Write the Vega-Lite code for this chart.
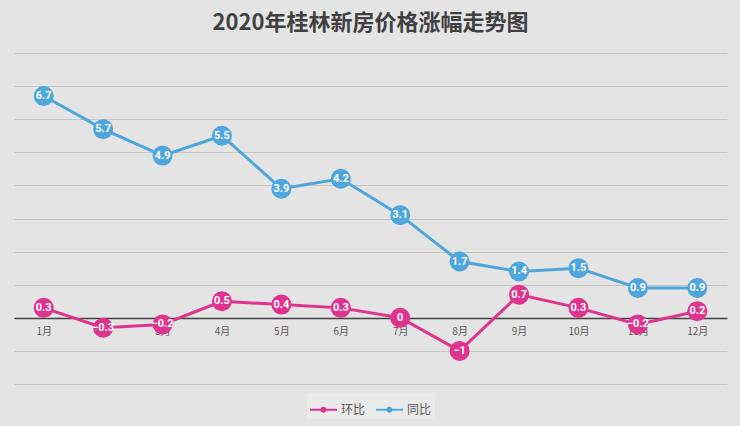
{
  "$schema": "https://vega.github.io/schema/vega-lite/v6.json",
  "width": 713,
  "height": 331,
  "autosize": {"type": "none"},
  "padding": {"left": 14, "top": 53, "right": 13, "bottom": 42},
  "background": "#e4e4e4",
  "title": {
    "text": "2020年桂林新房价格涨幅走势图",
    "font": "Noto Sans CJK SC",
    "fontSize": 22,
    "fontWeight": "bold",
    "color": "#404040",
    "anchor": "middle",
    "offset": 18
  },
  "config": {
    "view": {"stroke": null},
    "axis": {"labelFont": "Noto Sans CJK SC"},
    "legend": {"layout": {"bottom": {"anchor": "middle"}}}
  },
  "data": {
    "values": [
      {"month": "1月", "series": "环比", "value": 0.3},
      {"month": "2月", "series": "环比", "value": -0.3},
      {"month": "3月", "series": "环比", "value": -0.2},
      {"month": "4月", "series": "环比", "value": 0.5},
      {"month": "5月", "series": "环比", "value": 0.4},
      {"month": "6月", "series": "环比", "value": 0.3},
      {"month": "7月", "series": "环比", "value": 0},
      {"month": "8月", "series": "环比", "value": -1},
      {"month": "9月", "series": "环比", "value": 0.7},
      {"month": "10月", "series": "环比", "value": 0.3},
      {"month": "11月", "series": "环比", "value": -0.2},
      {"month": "12月", "series": "环比", "value": 0.2},
      {"month": "1月", "series": "同比", "value": 6.7},
      {"month": "2月", "series": "同比", "value": 5.7},
      {"month": "3月", "series": "同比", "value": 4.9},
      {"month": "4月", "series": "同比", "value": 5.5},
      {"month": "5月", "series": "同比", "value": 3.9},
      {"month": "6月", "series": "同比", "value": 4.2},
      {"month": "7月", "series": "同比", "value": 3.1},
      {"month": "8月", "series": "同比", "value": 1.7},
      {"month": "9月", "series": "同比", "value": 1.4},
      {"month": "10月", "series": "同比", "value": 1.5},
      {"month": "11月", "series": "同比", "value": 0.9},
      {"month": "12月", "series": "同比", "value": 0.9}
    ]
  },
  "encoding": {
    "x": {
      "field": "month",
      "type": "ordinal",
      "sort": ["1月","2月","3月","4月","5月","6月","7月","8月","9月","10月","11月","12月"],
      "scale": {"type": "point", "padding": 0.5},
      "axis": {
        "title": null,
        "offset": -66,
        "domainColor": "#404040",
        "domainWidth": 1.5,
        "ticks": false,
        "labelAngle": 0,
        "labelPadding": 8,
        "labelFontSize": 10,
        "labelColor": "#595959"
      }
    },
    "y": {
      "field": "value",
      "type": "quantitative",
      "scale": {"domain": [-2, 8], "nice": false, "zero": false},
      "axis": {
        "title": null,
        "values": [-2, -1, 0, 1, 2, 3, 4, 5, 6, 7, 8],
        "labels": false,
        "ticks": false,
        "domain": false,
        "gridColor": "#c4c4c4",
        "gridWidth": 1
      }
    },
    "color": {
      "field": "series",
      "type": "nominal",
      "sort": ["环比", "同比"],
      "scale": {"domain": ["环比", "同比"], "range": ["#e0338e", "#4ea6dc"]},
      "legend": {
        "title": null,
        "orient": "bottom",
        "direction": "horizontal",
        "offset": 9,
        "symbolType": "M-1,-0.08L1,-0.08L1,0.08L-1,0.08Z M-0.22,0A0.22,0.22 0 1,1 0.22,0A0.22,0.22 0 1,1 -0.22,0Z",
        "symbolSize": 729,
        "symbolStrokeWidth": 0,
        "labelFont": "Noto Sans CJK SC",
        "labelFontSize": 12,
        "labelColor": "#595959",
        "columnPadding": 10,
        "fillColor": "#eaeaea",
        "padding": 3,
        "encode": {
          "symbols": {"update": {"fill": {"field": "value", "scale": "color"}, "strokeWidth": {"value": 0}}}
        }
      }
    }
  },
  "layer": [
    {
      "mark": {"type": "line", "strokeWidth": 3}
    },
    {
      "mark": {"type": "point", "filled": true, "opacity": 1, "size": 400}
    },
    {
      "mark": {"type": "text", "color": "white", "font": "Roboto", "fontSize": 11, "fontWeight": "bold", "baseline": "middle"},
      "encoding": {
        "text": {"field": "value", "type": "quantitative"},
        "color": {"value": "white"}
      }
    }
  ]
}
